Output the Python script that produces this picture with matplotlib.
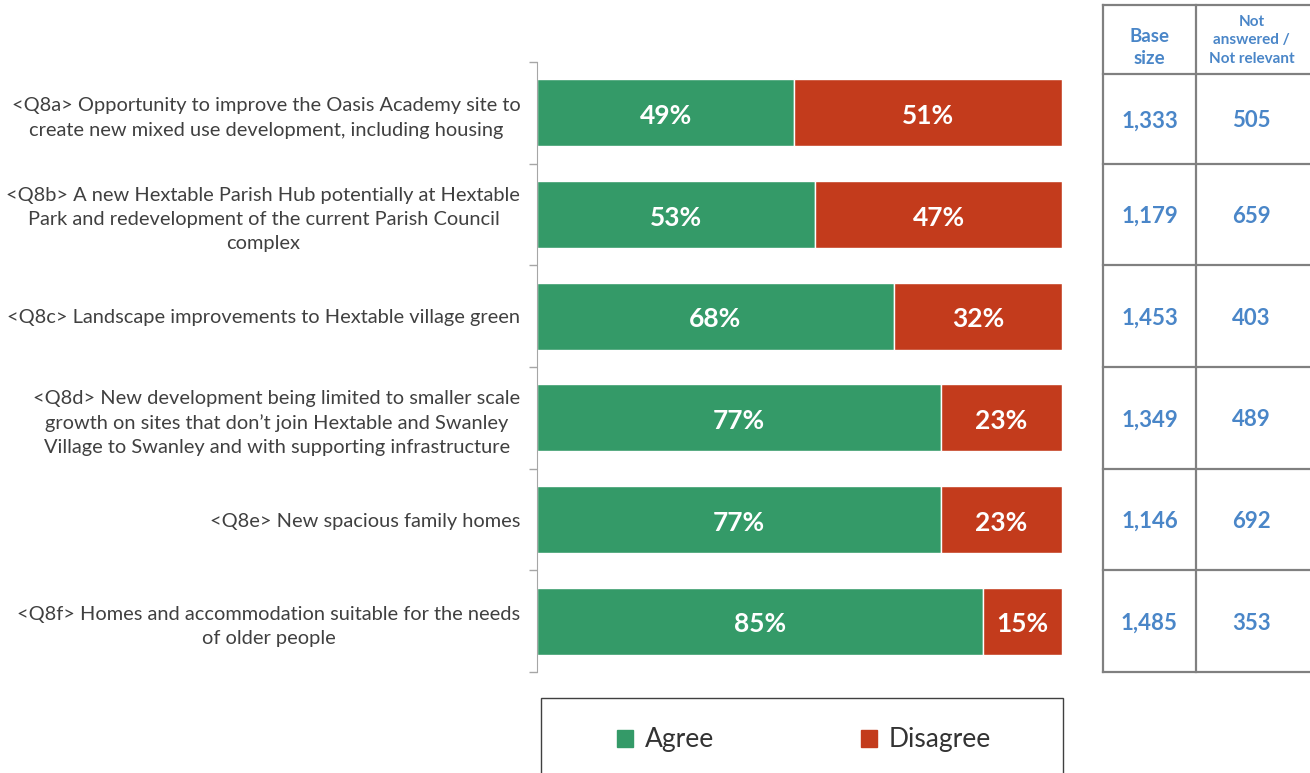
import matplotlib.pyplot as plt
from matplotlib.patches import Rectangle, Patch

plt.rcParams['font.family'] = ['Lato', 'DejaVu Sans']

# Data
questions = [
    "<Q8a> Opportunity to improve the Oasis Academy site to\ncreate new mixed use development, including housing",
    "<Q8b> A new Hextable Parish Hub potentially at Hextable\nPark and redevelopment of the current Parish Council\ncomplex",
    "<Q8c> Landscape improvements to Hextable village green",
    "<Q8d> New development being limited to smaller scale\ngrowth on sites that don\u2019t join Hextable and Swanley\nVillage to Swanley and with supporting infrastructure",
    "<Q8e> New spacious family homes",
    "<Q8f> Homes and accommodation suitable for the needs\nof older people",
]
agree = [49, 53, 68, 77, 77, 85]
disagree = [51, 47, 32, 23, 23, 15]
base_size = ["1,333", "1,179", "1,453", "1,349", "1,146", "1,485"]
not_answered = ["505", "659", "403", "489", "692", "353"]

green = "#349a68"
red = "#c33b1c"
blue = "#4a86c8"
grey = "#808080"

W, H = 1310, 773
fig = plt.figure(figsize=(W / 100, H / 100), dpi=100)

# Main bar axes
n = len(questions)
ax = fig.add_axes([537 / W, 1 - 672 / H, 525 / W, 610 / H])
y = list(range(n))
ax.barh(y, agree, height=0.66, color=green, edgecolor="white", linewidth=1)
ax.barh(y, disagree, left=agree, height=0.66, color=red, edgecolor="white", linewidth=1)
for i in y:
    ax.text(agree[i] / 2, i + 0.03, f"{agree[i]}%", ha="center", va="center",
            color="white", fontsize=19, fontweight="bold")
    ax.text(agree[i] + disagree[i] / 2, i + 0.03, f"{disagree[i]}%", ha="center", va="center",
            color="white", fontsize=19, fontweight="bold")

ax.set_xlim(0, 100)
ax.set_ylim(n - 0.5, -0.5)
ax.set_yticks(y)
ax.set_yticklabels(questions, fontsize=14.4, color="#404040", multialignment="center",
                   linespacing=1.52)
ax.set_yticks([i - 0.5 for i in range(n + 1)], minor=True)
ax.tick_params(axis="y", which="major", length=0, pad=12)
ax.tick_params(axis="y", which="minor", length=6, color="#a6a6a6", width=1)
ax.tick_params(axis="x", bottom=False, labelbottom=False)
for s in ["top", "right", "bottom"]:
    ax.spines[s].set_visible(False)
ax.spines["left"].set_color("#a6a6a6")

# Table on the right (same vertical scale as the bars)
top, hdr_bottom = -1.06, -0.382
axt = fig.add_axes([1103 / W, 1 - 672 / H, 207 / W, 667 / H])
axt.set_xlim(0, 2.23)
axt.set_ylim(n - 0.5, top)
axt.axis("off")
lw = 1.6
axt.plot([0, 0], [top, n - 0.5], color=grey, lw=lw, clip_on=False)
axt.plot([1, 1], [top, n - 0.5], color=grey, lw=lw, clip_on=False)
bounds = [top, hdr_bottom] + [i + 0.5 for i in range(n)]
for b in bounds:
    axt.plot([0, 2.3], [b, b], color=grey, lw=lw, clip_on=False)
axt.text(0.5, (top + hdr_bottom) / 2 + 0.08, "Base\nsize", ha="center", va="center",
         color=blue, fontsize=13.5, fontweight="bold", linespacing=1.33)
axt.text(1.6, (top + hdr_bottom) / 2 + 0.01, "Not\nanswered /\nNot relevant", ha="center", va="center",
         color=blue, fontsize=11, fontweight="bold", linespacing=1.37)
for i in y:
    c = (bounds[i + 1] + bounds[i + 2]) / 2 + 0.02
    axt.text(0.5, c, base_size[i], ha="center", va="center",
             color=blue, fontsize=16, fontweight="bold")
    axt.text(1.6, c, not_answered[i], ha="center", va="center",
             color=blue, fontsize=16, fontweight="bold")

# Legend box
fig.add_artist(Rectangle((541 / W, -0.05), 522 / W, 0.05 + 75 / H, transform=fig.transFigure,
                         fill=False, edgecolor="#404040", lw=1))
handles = [Patch(color=green, label="Agree"), Patch(color=red, label="Disagree")]
fig.legend(handles=handles, loc="center", bbox_to_anchor=(804 / W, 1 - 740 / H),
           ncol=2, frameon=False, fontsize=19, handlelength=0.6, handleheight=0.6,
           handletextpad=0.45, columnspacing=5.57, labelcolor="#333333")

fig.savefig("out.png", dpi=100)
